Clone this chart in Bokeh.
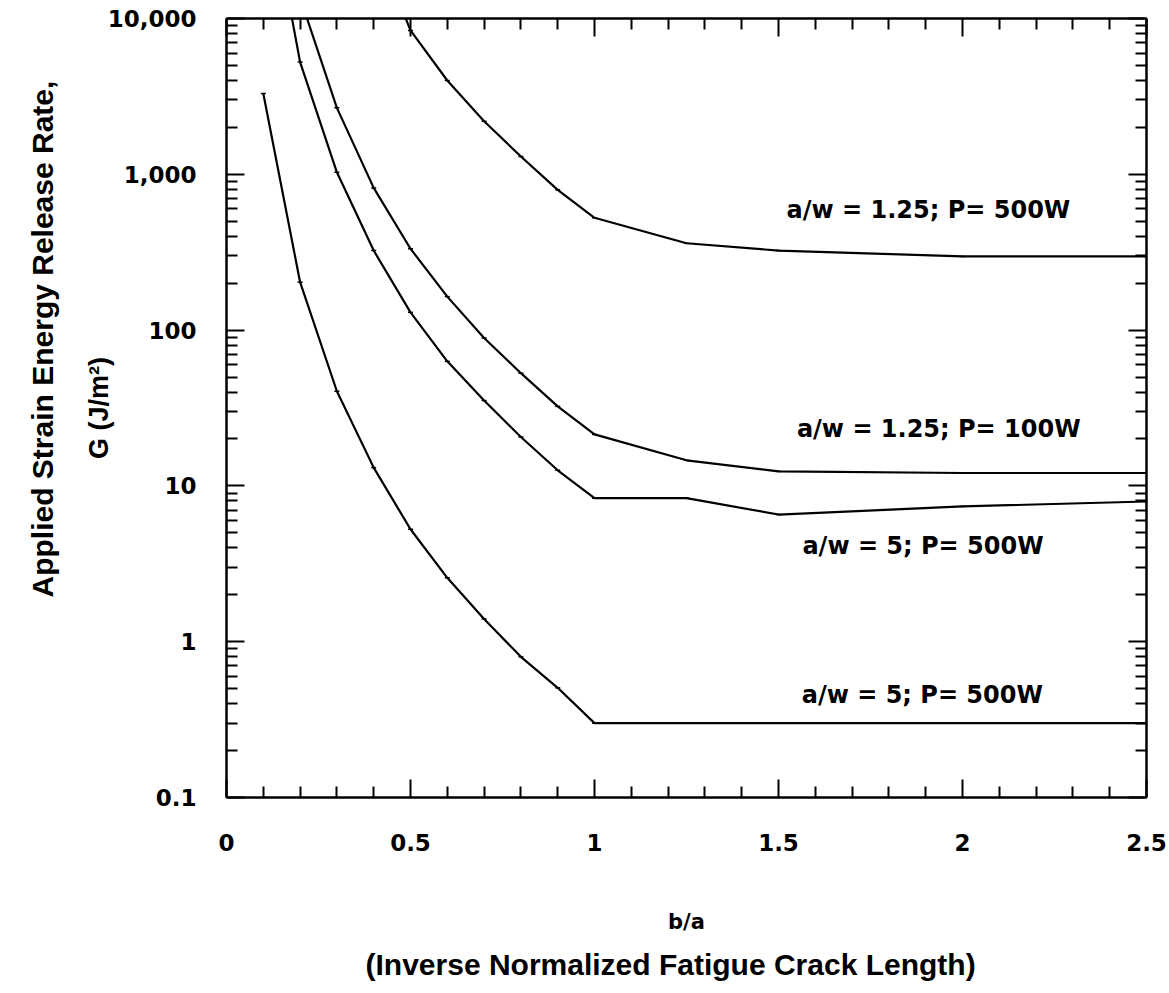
import math
from bokeh.plotting import figure
from bokeh.models import FixedTicker, LinearAxis, LogAxis, Label, Range1d, CustomJSTickFormatter, Title
from bokeh.embed import file_html
from bokeh.resources import INLINE

# ---------------- data ----------------
ba_a = [0.4, 0.5, 0.6, 0.7, 0.8, 0.9, 1.0, 1.25, 1.5, 2.0, 2.5]
g_aw125_p500 = [32600, 8380, 4000, 2190, 1300, 795, 526, 361, 324, 297, 297]

ba_b = [0.2, 0.3, 0.4, 0.5, 0.6, 0.7, 0.8, 0.9, 1.0, 1.25, 1.5, 2.0, 2.5]
g_aw125_p100 = [13600, 2670, 818, 333, 164, 89, 52.9, 32.4, 21.4, 14.6, 12.4, 12.1, 12.1]

ba_c = [0.1, 0.2, 0.3, 0.4, 0.5, 0.6, 0.7, 0.8, 0.9, 1.0, 1.25, 1.5, 2.0, 2.5]
g_aw5_p500_upper = [98000, 5250, 1030, 324, 130, 63, 35.3, 20.6, 12.6, 8.34, 8.34, 6.55, 7.38, 7.94]

ba_d = [0.1, 0.2, 0.3, 0.4, 0.5, 0.6, 0.7, 0.8, 0.9, 1.0, 1.25, 1.5, 2.0, 2.5]
g_aw5_p500_lower = [3300, 203, 40.5, 13.1, 5.27, 2.57, 1.40, 0.80, 0.506, 0.30, 0.30, 0.30, 0.30, 0.30]

series_labels = ["a/w = 1.25; P= 500W", "a/w = 1.25; P= 100W",
                 "a/w = 5; P= 500W", "a/w = 5; P= 500W"]

x_major = [0, 0.5, 1, 1.5, 2, 2.5]
x_minor = [0.1, 0.2, 0.3, 0.4, 0.6, 0.7, 0.8, 0.9, 1.1, 1.2, 1.3, 1.4,
           1.6, 1.7, 1.8, 1.9, 2.1, 2.2, 2.3, 2.4]
y_major = [0.1, 1, 10, 100, 1000, 10000]
y_major_labels = ["0.1", "1", "10", "100", "1,000", "10,000"]
y_minor = [m * 10 ** e for e in range(-1, 4) for m in range(2, 10)]

x_title = "b/a"
x_subtitle = "(Inverse Normalized Fatigue Crack Length)"
y_title = "Applied Strain Energy Release Rate,"
y_subtitle = "G (J/m\u00b2)"

# ---------------- figure ----------------
p = figure(width=1169, height=993, x_range=Range1d(0, 2.5), y_range=Range1d(0.1, 10000),
           y_axis_type="log", output_backend="svg", toolbar_location=None,
           min_border_left=226, min_border_right=23, min_border_top=18, min_border_bottom=196)
p.outline_line_color = None
p.xgrid.visible = False
p.ygrid.visible = False
p.background_fill_color = "white"
p.border_fill_color = "white"

tick_font = "DejaVu Sans"


def style_axis(ax):
    ax.axis_line_width = 2.5
    ax.axis_line_color = "black"
    ax.major_tick_line_width = 2
    ax.minor_tick_line_width = 2
    ax.major_tick_line_color = "black"
    ax.minor_tick_line_color = "black"
    ax.major_tick_in = 18
    ax.major_tick_out = 0
    ax.minor_tick_in = 11
    ax.minor_tick_out = 0
    ax.major_label_text_font = tick_font
    ax.major_label_text_font_style = "bold"
    ax.major_label_text_font_size = "23px"
    ax.major_label_text_color = "black"


xa = p.xaxis[0]
xa.ticker = FixedTicker(ticks=x_major, minor_ticks=x_minor)
style_axis(xa)
xa.major_label_standoff = 36
xa.axis_label = x_title
xa.axis_label_text_font = tick_font
xa.axis_label_text_font_style = "bold"
xa.axis_label_text_font_size = "21px"
xa.axis_label_text_color = "black"
xa.axis_label_standoff = 56

ya = p.yaxis[0]
ya.ticker = FixedTicker(ticks=y_major, minor_ticks=y_minor)
style_axis(ya)
ya.major_label_overrides = dict(zip(y_major, y_major_labels))
ya.major_label_standoff = 30
ya.axis_label = y_subtitle
ya.axis_label_text_font = "Liberation Sans"
ya.axis_label_text_font_style = "bold"
ya.axis_label_text_font_size = "27px"
ya.axis_label_text_color = "black"
ya.axis_label_standoff = -9

top = LinearAxis(ticker=FixedTicker(ticks=x_major, minor_ticks=x_minor),
                 formatter=CustomJSTickFormatter(code="return ''"))
style_axis(top)
top.major_label_text_font_size = "0px"
top.major_label_standoff = 0
p.add_layout(top, "above")

right = LogAxis(ticker=FixedTicker(ticks=y_major, minor_ticks=y_minor),
                formatter=CustomJSTickFormatter(code="return ''"))
style_axis(right)
right.major_label_text_font_size = "0px"
right.major_label_standoff = 0
p.add_layout(right, "right")

# outer titles
p.add_layout(Title(text=x_subtitle, align="left", offset=139, standoff=19,
                   text_font="Liberation Sans", text_font_style="bold",
                   text_font_size="30px", text_color="black"), "below")
p.add_layout(Title(text=y_title, align="left", offset=200, standoff=43,
                   text_font="Liberation Sans", text_font_style="bold",
                   text_font_size="30px", text_color="black"), "left")

# ---------------- curves ----------------
for xs, ys in [(ba_a, g_aw125_p500), (ba_b, g_aw125_p100),
               (ba_c, g_aw5_p500_upper), (ba_d, g_aw5_p500_lower)]:
    p.line(xs, ys, line_width=2.2, line_color="black")
    p.scatter(xs, ys, marker="dash", size=5, line_width=1.5, line_color="black")

# ---------------- curve labels ----------------
label_pos = [(1.522, 586), (1.55, 23.2), (1.565, 4.14), (1.563, 0.452)]
for (lx, ly), txt in zip(label_pos, series_labels):
    p.add_layout(Label(x=lx, y=ly, text=txt, text_font=tick_font, text_font_style="bold",
                       text_font_size="24px", text_color="black",
                       text_align="left", text_baseline="middle"))

open("out.html", "w").write(file_html(p, INLINE))
